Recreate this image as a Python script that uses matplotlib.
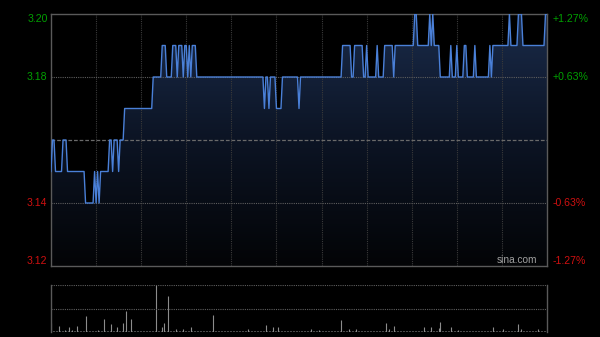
import numpy as np
import matplotlib
matplotlib.use('Agg')
import matplotlib.pyplot as plt
from matplotlib.colors import LinearSegmentedColormap

# ---------------- data ----------------
# intraday price, run-length encoded: (price, number of minutes)
price_runs = [
    (3.15, 1), (3.16, 2), (3.15, 5), (3.16, 3), (3.15, 12), (3.14, 6),
    (3.15, 1), (3.14, 1), (3.15, 1), (3.14, 1), (3.15, 6), (3.16, 2),
    (3.15, 1), (3.16, 3), (3.15, 1), (3.16, 3), (3.17, 19), (3.18, 6),
    (3.19, 3), (3.18, 4), (3.19, 3), (3.18, 1), (3.19, 3), (3.18, 1),
    (3.19, 2), (3.18, 1), (3.19, 1), (3.18, 1), (3.19, 3), (3.18, 45),
    (3.17, 1), (3.18, 2), (3.17, 1), (3.18, 4), (3.17, 4), (3.18, 11),
    (3.17, 1), (3.18, 28), (3.19, 6), (3.18, 2), (3.19, 6), (3.18, 2),
    (3.19, 1), (3.18, 6), (3.19, 1), (3.18, 4), (3.19, 6), (3.18, 1),
    (3.19, 13), (3.20, 2), (3.19, 8), (3.20, 1), (3.19, 1), (3.20, 1),
    (3.19, 4), (3.18, 7), (3.19, 1), (3.18, 3), (3.19, 1), (3.18, 4),
    (3.19, 2), (3.18, 5), (3.19, 1), (3.18, 9), (3.19, 1), (3.18, 1),
    (3.19, 11), (3.20, 1), (3.19, 5), (3.20, 3), (3.19, 15), (3.20, 2),
]
prices = np.concatenate([[v] * n for v, n in price_runs])
minutes = np.arange(len(prices))

prev_close = 3.16
price_min, price_max = 3.12, 3.20
left_labels = [3.20, 3.18, 3.14, 3.12]
grid_minutes = [30, 60, 90, 120, 150, 180, 210, 240, 270, 300]

# volume: notable bars (minute -> volume), others small
vol_spikes = {
    0: 93, 5: 63, 12: 47, 17: 63, 23: 160, 35: 130, 40: 80, 44: 47,
    48: 93, 50: 213, 53: 130, 70: 470, 74: 53, 75: 93, 78: 360, 83: 33,
    88: 33, 93: 53, 108: 170, 131: 27, 143: 67, 148: 47, 151: 53,
    173: 27, 178: 20, 193: 120, 198: 30, 203: 30, 223: 93, 225: 30,
    228: 63, 248: 53, 253: 47, 258: 40, 259: 103, 266: 53, 271: 20,
    294: 53, 301: 30, 311: 80, 313: 30, 324: 33,
    2: 15, 9: 18, 14: 20, 20: 15, 28: 14, 31: 18, 38: 15, 57: 15, 62: 14,
    80: 15, 98: 12, 115: 14, 160: 12, 186: 12, 240: 12, 280: 14, 318: 14,
}
vol_base = 8
volumes = np.array([vol_spikes.get(int(m), vol_base) for m in minutes])
vol_max = 470

# ---------------- figure ----------------
W, H = 600, 337
fig = plt.figure(figsize=(W / 100, H / 100), dpi=100, facecolor='black')

def fx(px):
    return px / W

def fy(py):
    return 1 - py / H

ax = fig.add_axes([fx(51), fy(266), fx(547) - fx(51), fy(14) - fy(266)])
ax.set_facecolor('black')

# gradient fill under the line
cmap = LinearSegmentedColormap.from_list('fill', ['#030406', '#0c1424', '#1a2b4a'])
poly = ax.fill_between(minutes, prices, price_min, color='none', lw=0)
path = poly.get_paths()[0]
grad = np.linspace(1, 0, 256).reshape(-1, 1)
im = ax.imshow(grad, extent=[0, len(minutes) - 1, price_min, price_max],
               aspect='auto', cmap=cmap, origin='upper', zorder=1)
im.set_clip_path(path, transform=ax.transData)

# grid
for m in grid_minutes:
    ax.axvline(m, color='#3a3a3a', lw=0.8, ls=(0, (1, 1)), zorder=2)
for p in [3.18, 3.14]:
    ax.axhline(p, color='#5e5e5e', lw=0.8, ls=(0, (1, 1)), zorder=2)
ax.axhline(prev_close, color='#6a6a6a', lw=0.9, ls=(0, (3, 1.5)), zorder=2)

ax.plot(minutes, prices, color='#4a80d8', lw=1.0, zorder=3)

ax.set_xlim(0, len(minutes) - 1)
ax.set_ylim(price_min, price_max)
ax.set_xticks([])
ax.set_yticks([])
for s in ax.spines.values():
    s.set_color('#5a5a5a')
    s.set_linewidth(1.0)

font = 'Liberation Sans'
for p in left_labels:
    col = '#00a000' if p > prev_close else '#d01010'
    va = 'top' if p == price_max else ('bottom' if p == price_min else 'center')
    ax.text(-0.007, p, f'{p:.2f}', transform=ax.get_yaxis_transform(),
            ha='right', va=va, color=col, fontsize=7.6, family=font)
    pct = (p / prev_close - 1) * 100
    ax.text(1.011, p, f'{pct:+.2f}%', transform=ax.get_yaxis_transform(),
            ha='left', va=va, color=col, fontsize=7.6, family=font)

ax.text(0.98, 0.003, 'sina.com', transform=ax.transAxes, ha='right',
        va='bottom', color='#a0a0a0', fontsize=7.3, family=font, zorder=4)

# volume panel
ax2 = fig.add_axes([fx(51), fy(332), fx(547) - fx(51), fy(285) - fy(332)])
ax2.set_facecolor('black')
ax2.vlines(minutes, 0, volumes, color='#8c8c8c', lw=0.8)
ax2.axhline(vol_max, color='#5e5e5e', lw=0.8, ls=(0, (1, 1)))
ax2.axhline(vol_max / 2, color='#5e5e5e', lw=0.8, ls=(0, (1, 1)))
ax2.set_xlim(0, len(minutes) - 1)
ax2.set_ylim(0, vol_max)
ax2.set_xticks([])
ax2.set_yticks([])
for k in ['top', 'bottom']:
    ax2.spines[k].set_visible(False)
for k in ['left', 'right']:
    ax2.spines[k].set_color('#5a5a5a')
    ax2.spines[k].set_linewidth(1.0)

fig.savefig('out.png', dpi=100, facecolor='black')
